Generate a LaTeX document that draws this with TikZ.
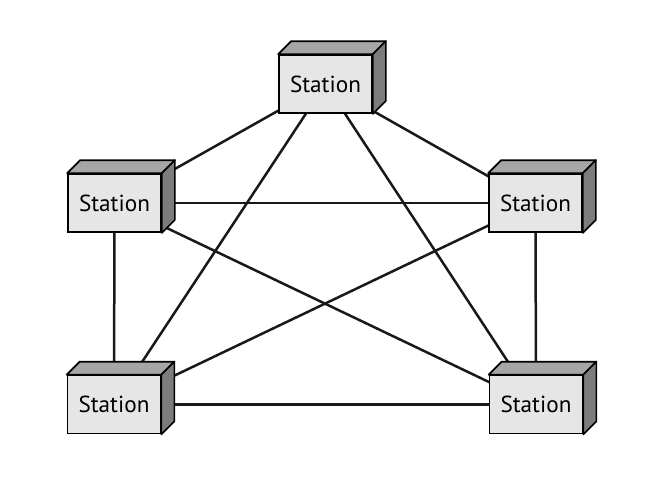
\documentclass[tikz,border=0pt]{standalone}
\usepackage{fontspec}
\newfontfamily\stationfont{PT Sans}
\usepackage{xcolor}
\usepackage{tikz}
\usetikzlibrary{backgrounds}
\definecolor{frontgray}{HTML}{E6E6E6}
\definecolor{topgray}{HTML}{A6A6A6}
\definecolor{sidegray}{HTML}{7C7C7C}
\begin{document}
\begin{tikzpicture}[x=0.5pt,y=-0.5pt,
station/.style={draw,fill=frontgray,minimum width=46.5pt,minimum height=29pt,inner sep=0pt,
    line width=0.85pt,font=\stationfont\fontsize{11.6}{14}\selectfont},
face/.style={draw,line width=0.85pt,line join=round},
link/.style={line width=1.25pt,draw=black!90}]
\useasboundingbox (0,0) rectangle (665,484);
\node (top) [station] at (325.5,84) {Station};
\node (left) [station] at (114.5,203) {Station};
\node (right) [station] at (535.5,203) {Station};
\node (botleft) [station] at (114,404.5) {Station};
\node (botright) [station] at (536,404.5) {Station};
% depth faces
\foreach \s in {top,left,right,botleft,botright} {
  \draw[face,fill=topgray] (\s.north west) -- ++(13,-13) -- ([shift={(13,-13)}]\s.north east) -- (\s.north east) -- cycle;
  \draw[face,fill=sidegray] (\s.north east) -- ++(13,-13) -- ([shift={(13,-13)}]\s.south east) -- (\s.south east) -- cycle;
}
% links
\begin{pgfonlayer}{background}
\foreach \a/\b in {top/left,top/right,top/botleft,top/botright,left/right,
    left/botleft,left/botright,right/botleft,right/botright,botleft/botright}
  \draw[link] (\a.center) -- (\b.center);
\end{pgfonlayer}
\end{tikzpicture}
\end{document}
